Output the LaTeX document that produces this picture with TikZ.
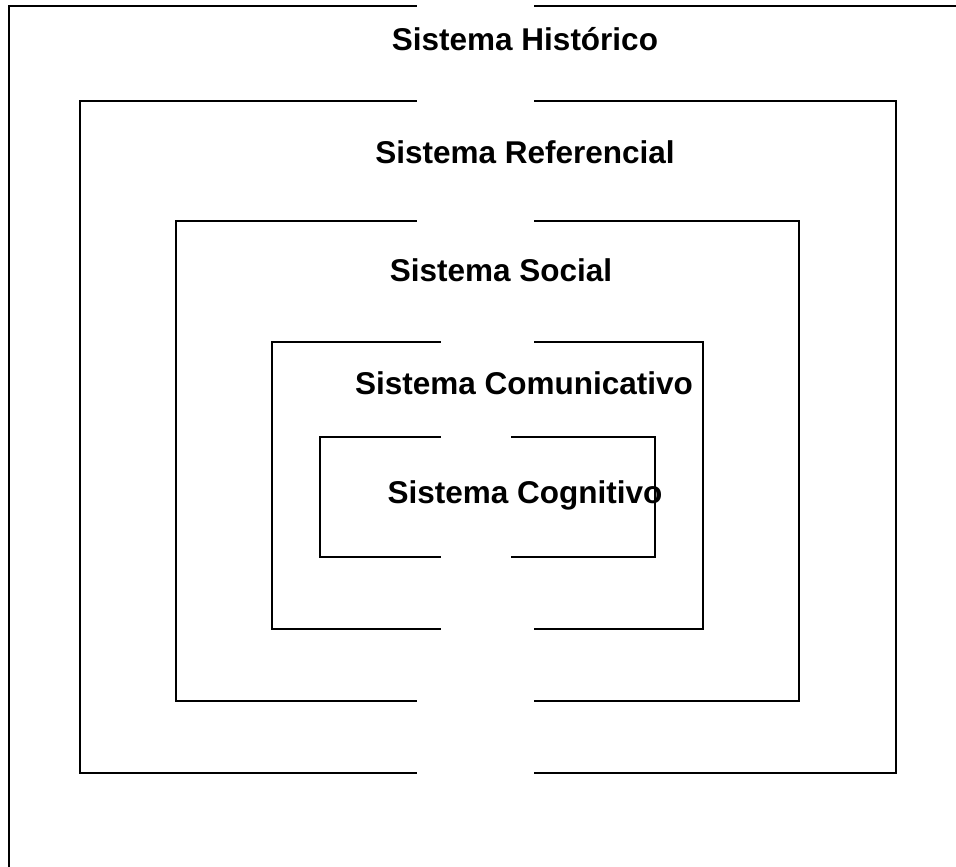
\documentclass[tikz,border=0pt]{standalone}
\usepackage{fontspec}
\setmainfont{Liberation Sans}
\begin{document}
\begin{tikzpicture}[x=1pt,y=-1pt,
  wall/.style={line width=1.6pt,line cap=rect,black},
  lbl/.style={inner sep=0pt,anchor=base,font=\bfseries\fontsize{31.5}{36}\selectfont}]
\useasboundingbox (0,0) rectangle (956,867);
% outer (clipped) box
\draw[wall] (416,6) -- (9,6) -- (9,867);
\draw[wall] (535,6) -- (956,6);
% box 2
\draw[wall] (416,101) -- (80,101) -- (80,773) -- (416,773);
\draw[wall] (535,101) -- (896,101) -- (896,773) -- (535,773);
% box 3
\draw[wall] (416,221) -- (176,221) -- (176,701) -- (416,701);
\draw[wall] (535,221) -- (799,221) -- (799,701) -- (535,701);
% box 4
\draw[wall] (440,342) -- (272,342) -- (272,629) -- (440,629);
\draw[wall] (535,342) -- (703,342) -- (703,629) -- (535,629);
% box 5
\draw[wall] (440,437) -- (320,437) -- (320,557) -- (440,557);
\draw[wall] (512,437) -- (655,437) -- (655,557) -- (512,557);
% labels
\node[lbl] (hist) at (525,51) {Sistema Histórico};
\node[lbl] (ref) at (525,163) {Sistema Referencial};
\node[lbl] (soc) at (501,281) {Sistema Social};
\node[lbl] (com) at (524,394) {Sistema Comunicativo};
\node[lbl] (cog) at (525,503) {Sistema Cognitivo};
\end{tikzpicture}
\end{document}
